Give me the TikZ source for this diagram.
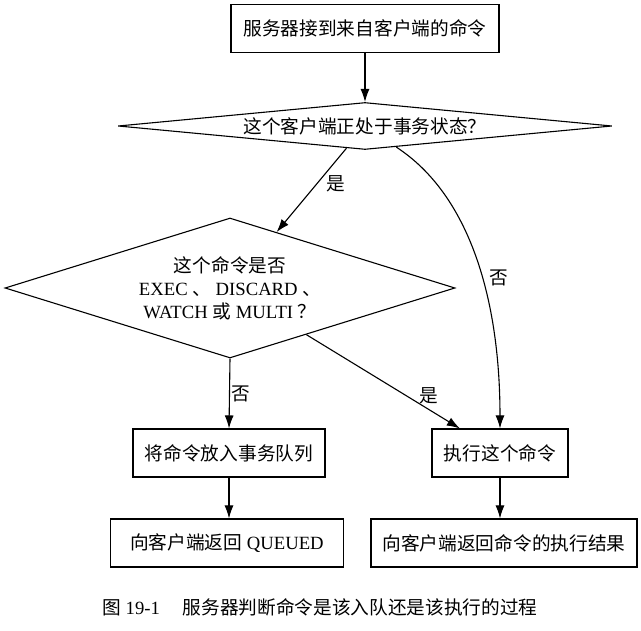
\documentclass[tikz,border=0pt]{standalone}
\usepackage{fontspec}
\setmainfont{Liberation Serif}
\newfontfamily\cjk{Noto Sans CJK SC}
\newcommand{\zh}[1]{{\cjk #1}}
\usetikzlibrary{shapes.geometric,arrows.meta}
\tikzset{
	box/.style={draw, rectangle, minimum height=48pt, inner sep=0pt},
	decision/.style={draw, diamond, inner sep=0pt},
	arr/.style={-{Latex[length=13pt,width=9pt]}},
	lbl/.style={inner sep=1pt}
}

\begin{document}
\begin{tikzpicture}[x=1pt, y=-1pt, line width=1.1pt, font=\fontsize{18.67}{23}\selectfont]
			%%%%% START %%%%%
			\useasboundingbox (0, 0) rectangle (641, 631);
			
			\node[box, minimum width=268pt] (recv) at (365, 28.5) {\zh{服务器接到来自客户端的命令}};
			
			\node[decision, aspect=10.5, minimum width=494pt, minimum height=47pt] (inmulti) at (365, 126) {\zh{这个客户端正处于事务状态？}};
			
			\node[decision, aspect=3.2, minimum width=450pt, minimum height=140pt, align=center] (special) at (230, 288)
				{\zh{这个命令是否}\\EXEC \zh{、} DISCARD \zh{、}\\WATCH \zh{或} MULTI \zh{？}};
			
			\node[box, minimum width=192pt] (enqueue) at (229, 453) {\zh{将命令放入事务队列}};
			\node[box, minimum width=136pt] (exec) at (500, 453) {\zh{执行这个命令}};
			
			\node[box, minimum width=233pt] (queued) at (227, 543) {\zh{向客户端返回} QUEUED};
			\node[box, minimum width=266pt] (reply) at (504, 543) {\zh{向客户端返回命令的执行结果}};
			
			\draw[arr] (recv) -- (inmulti);
			\draw[arr] (inmulti) -- (special) node[lbl, pos=0.42, right=8pt] {\zh{是}};
			\draw[arr] (inmulti.-34) .. controls (470, 195) and (500, 300) .. (exec.north) node[lbl, pos=0.57, right=6pt] {\zh{否}};
			\draw[arr] (special.south) -- (enqueue.north) node[lbl, midway, right] {\zh{否}};
			\draw[arr] (special) -- (exec) node[lbl, pos=0.8, above=4pt] {\zh{是}};
			
			\draw[arr] (enqueue) -- (queued.north -| enqueue);
			\draw[arr] (exec) -- (reply.north -| exec);
			
			\node (caption) at (320, 607) {\zh{图} 19-1\hspace{23pt}\zh{服务器判断命令是该入队还是该执行的过程}};
			%%%%% END %%%%%
\end{tikzpicture}
\end{document}
